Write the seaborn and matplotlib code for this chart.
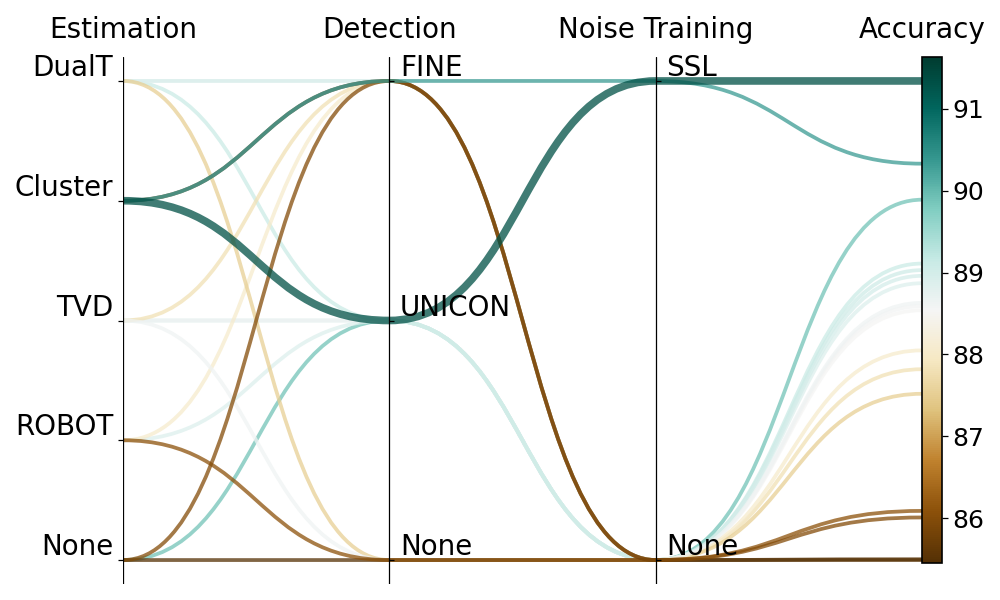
import matplotlib
matplotlib.use("Agg")
import numpy as np
import pandas as pd
import matplotlib.pyplot as plt
import matplotlib.transforms as mtransforms
from matplotlib.path import Path
from matplotlib.patches import PathPatch
from matplotlib.cm import ScalarMappable
import seaborn as sns

# ---------------- data ----------------
axis_names = ["Estimation", "Detection", "Noise Training", "Accuracy"]
estimation_levels = ["None", "ROBOT", "TVD", "Cluster", "DualT"]
detection_levels = ["None", "UNICON", "FINE"]
noise_levels = ["None", "SSL"]

estimation = ["None", "TVD", "TVD", "ROBOT", "DualT", "DualT", "DualT", "TVD",
              "ROBOT", "DualT", "TVD", "None", "ROBOT", "Cluster", "None",
              "Cluster", "Cluster"]
detection = ["UNICON", "UNICON", "UNICON", "UNICON", "UNICON", "FINE", "FINE", "FINE",
             "FINE", "None", "None", "None", "None", "FINE", "FINE",
             "FINE", "UNICON"]
noise_training = ["None", "None", "None", "None", "None", "None", "None", "None",
                  "None", "None", "None", "None", "None", "None", "None",
                  "SSL", "SSL"]
accuracy = [89.89, 89.03, 88.59, 88.87, 89.11, 88.54, 88.96, 87.82,
            88.05, 87.52, 88.63, 85.49, 86.09, 85.50, 86.01,
            90.33, 91.34]
highlight = [False] * 16 + [True]

cbar_ticks = [86, 87, 88, 89, 90, 91]
cbar_range = (85.46, 91.63)

df = pd.DataFrame({"Estimation": estimation, "Detection": detection,
                   "Noise Training": noise_training, "Accuracy": accuracy,
                   "highlight": highlight})

# ---------------- style ----------------
sns.set_theme(style="white")
plt.rcParams["font.family"] = ["DejaVu Sans"]
plt.rcParams["text.color"] = "black"
plt.rcParams["axes.labelcolor"] = "black"
plt.rcParams["xtick.color"] = "black"
plt.rcParams["ytick.color"] = "black"
cmap = sns.color_palette("BrBG", as_cmap=True)
norm = plt.Normalize(*cbar_range)

acc_min, acc_max = df["Accuracy"].min(), df["Accuracy"].max()


def cat_pos(levels, v):
    return levels.index(v) / (len(levels) - 1)


def acc_pos(v):
    return (v - acc_min) / (acc_max - acc_min)


fig = plt.figure(figsize=(10, 6), dpi=100)
ax = fig.add_axes([0.123, 16 / 600, 0.799, 527 / 600])
ax.set_xlim(0, 3)
ax.set_ylim(-0.05, 1.05)
for s in ax.spines.values():
    s.set_visible(False)
ax.set_xticks([])
ax.set_yticks([])
ax.grid(False)

# ---------------- curves ----------------
for _, r in df.iterrows():
    ys = [cat_pos(estimation_levels, r["Estimation"]),
          cat_pos(detection_levels, r["Detection"]),
          cat_pos(noise_levels, r["Noise Training"]),
          acc_pos(r["Accuracy"])]
    verts = [(0, ys[0])]
    codes = [Path.MOVETO]
    for i in range(3):
        verts += [(i + 0.5, ys[i]), (i + 0.5, ys[i + 1]), (i + 1, ys[i + 1])]
        codes += [Path.CURVE4] * 3
    patch = PathPatch(Path(verts, codes), facecolor="none",
                      edgecolor=cmap(norm(r["Accuracy"])), alpha=0.75,
                      lw=5.5 if r["highlight"] else 2.7, zorder=2)
    ax.add_patch(patch)

# ---------------- categorical axes ----------------
cat_axes = [estimation_levels, detection_levels, noise_levels]
for i, levels in enumerate(cat_axes):
    ax.axvline(i, color="black", lw=0.9, zorder=3)
    pos = [cat_pos(levels, v) for v in levels]
    ax.plot([i] * len(pos), pos, ls="none", marker=0 if i == 0 else 1,
            ms=3.6, mew=0.9, color="black", clip_on=False, zorder=3)
    for v, p in zip(levels, pos):
        if i == 0:
            ax.annotate(v, xy=(i, p), xytext=(-7.2, 3.6), textcoords="offset points",
                        ha="right", va="baseline", fontsize=20, zorder=4,
                        color="black", annotation_clip=False)
        else:
            ax.annotate(v, xy=(i, p), xytext=(7.6, 3.6), textcoords="offset points",
                        ha="left", va="baseline", fontsize=20, zorder=4,
                        color="black", annotation_clip=False)

# axis titles
trans = mtransforms.blended_transform_factory(ax.transData, fig.transFigure)
for i, name in enumerate(axis_names):
    ax.text(i, 1 - 38 / 600, name, ha="center", va="baseline", fontsize=20,
            color="black", transform=trans)

# ---------------- colorbar as accuracy axis ----------------
y0 = acc_pos(cbar_range[0])
y1 = acc_pos(cbar_range[1])
cax = ax.inset_axes([3.0, y0, 0.075, y1 - y0], transform=ax.transData)
sm = ScalarMappable(norm=norm, cmap=cmap)
cb = fig.colorbar(sm, cax=cax)
cb.set_ticks(cbar_ticks)
cb.ax.tick_params(labelsize=18, length=4, width=0.9, color="black",
                  labelcolor="black", right=True)
cb.outline.set_linewidth(1.2)
cb.outline.set_edgecolor("black")

fig.savefig("out.png", dpi=100)
